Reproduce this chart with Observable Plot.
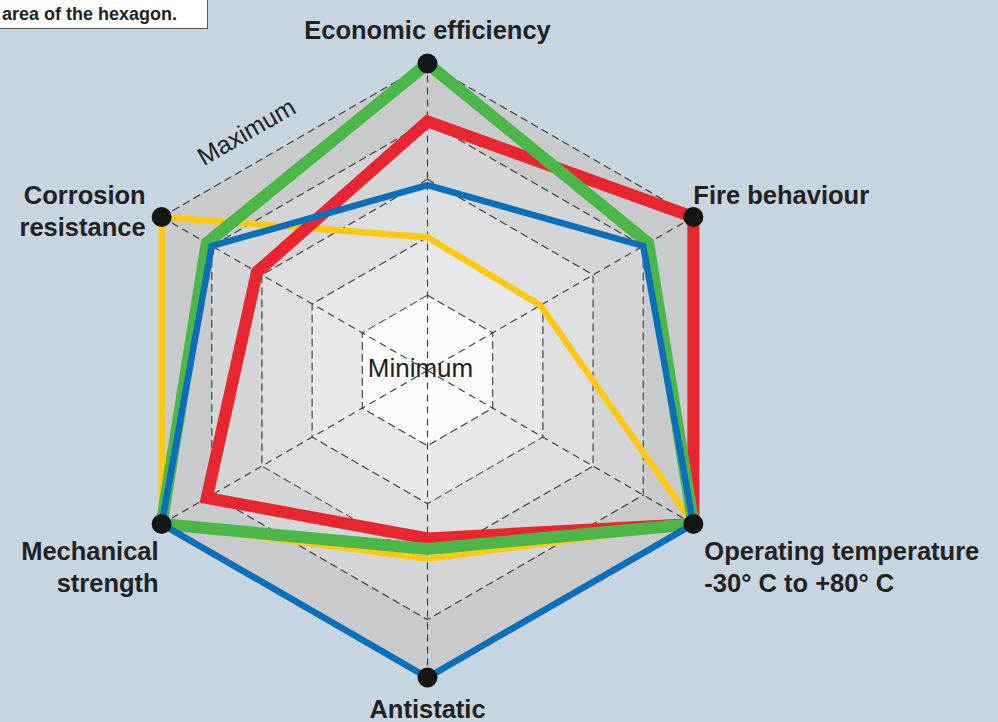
<!DOCTYPE html>
<html>
<head>
<meta charset="utf-8">
<script src="https://cdn.jsdelivr.net/npm/d3@7"></script>
<script src="https://cdn.jsdelivr.net/npm/@observablehq/plot@0.6"></script>
<style>
  html, body { margin: 0; padding: 0; background: #c6d5df; }
  #wrap { position: relative; width: 998px; height: 722px; overflow: hidden; }
  #note { position: absolute; left: -1px; top: -1px; width: 209px; height: 30px; background: #fff;
          border: 1px solid #555; box-sizing: border-box; font: bold 18px "Liberation Sans", Arial, sans-serif;
          color: #222; }
  #note span { position: absolute; left: 2px; top: 4px; white-space: nowrap; }
</style>
</head>
<body>
<div id="wrap"><div id="note"><span>area of the hexagon.</span></div></div>
<script>
// ---- data ----
const axes = ["Economic efficiency", "Fire behaviour", "Operating temperature", "Antistatic", "Mechanical strength", "Corrosion resistance"];
const axisLabels = ["Economic efficiency", "Fire behaviour", "Operating temperature\n-30° C to +80° C", "Antistatic", "Mechanical\nstrength", "Corrosion\nresistance"];
const levels = [1, 2, 3, 4, 5];
const seriesNames = ["Yellow", "Red", "Green", "Blue"];
const yellowValues = [2.0, 1.95, 5, 2.95, 5, 5];
const redValues    = [4.0, 5, 5, 2.6, 4.1, 3.1];
const greenValues  = [5, 4.1, 5, 2.78, 5, 4.1];
const blueValues   = [2.9, 4.0, 5, 5, 5, 4.0];
const seriesColors = ["#fdc913", "#e8262f", "#4cb748", "#0a6fba"];
const seriesWidths = [6.5, 12, 12, 6.5];
const bandColors = ["#c9cacc", "#d4d5d7", "#dedfe1", "#e8e9eb", "#fbfbfc"]; // level 5 .. 1

// ---- geometry helpers (polar -> cartesian, in radar units) ----
const rad = v => (v + 0.3) / 5.3;
const ang = i => i * Math.PI / 3;
const px = (v, i) => rad(v) * Math.sin(ang(i));
const py = (v, i) => rad(v) * Math.cos(ang(i));
const idx = axes.map((_, i) => i);

const seriesValues = [yellowValues, redValues, greenValues, blueValues];
const rows = seriesNames.flatMap((s, k) => seriesValues[k].map((v, i) => ({series: s, k, i, value: v})));

const marks = [];
// bands, outer to inner
[...levels].reverse().forEach((L, j) => {
  marks.push(Plot.line(idx, {x: i => px(L, i), y: i => py(L, i), curve: "linear-closed", fill: bandColors[j], stroke: "none"}));
});
// dashed rings
levels.forEach(L => {
  marks.push(Plot.line(idx, {x: i => px(L, i), y: i => py(L, i), curve: "linear-closed", stroke: "#3a3a3a", strokeWidth: 1.1, strokeDasharray: "7,5", fill: "none"}));
});
// spokes
marks.push(Plot.link(idx, {x1: 0, y1: 0, x2: i => px(5, i), y2: i => py(5, i), stroke: "#3a3a3a", strokeWidth: 1.1, strokeDasharray: "7,5"}));
// series
seriesNames.forEach((s, k) => {
  marks.push(Plot.line(rows.filter(d => d.k === k), {
    x: d => px(d.value, d.i), y: d => py(d.value, d.i), curve: "linear-closed",
    stroke: seriesColors[k], strokeWidth: seriesWidths[k], strokeLinejoin: "miter", strokeMiterlimit: 10
  }));
});
// vertex dots
marks.push(Plot.dot(idx, {x: i => px(5, i), y: i => py(5, i), r: 10, fill: "#151515", stroke: "none"}));
// axis labels
const labelStyle = [
  {dx: 0, dy: -35, textAnchor: "middle"},
  {dx: 0, dy: -23, textAnchor: "start"},
  {dx: 11, dy: 42, textAnchor: "start"},
  {dx: 0, dy: 30, textAnchor: "middle"},
  {dx: -3, dy: 42, textAnchor: "end"},
  {dx: -16, dy: -7, textAnchor: "end"}
];
idx.forEach(i => {
  marks.push(Plot.text([axisLabels[i]], {x: px(5, i), y: py(5, i), text: d => d, ...labelStyle[i],
    lineAnchor: "middle", lineHeight: 1.25, fontSize: 25.5, fontWeight: "bold", fill: "#222",
    fontFamily: "'Liberation Sans', Arial, sans-serif"}));
});
// Maximum / Minimum
marks.push(Plot.text(["Maximum"], {x: (px(5, 5) + px(5, 0)) / 2, y: (py(5, 5) + py(5, 0)) / 2, text: d => d,
  dx: -48, dy: -8, rotate: -30, fontSize: 25, fill: "#222", fontFamily: "'Liberation Sans', Arial, sans-serif"}));
marks.push(Plot.text(["Minimum"], {x: 0, y: 0, text: d => d, dx: -7, dy: -2, fontSize: 26, fill: "#222",
  fontFamily: "'Liberation Sans', Arial, sans-serif"}));

const chart = Plot.plot({
  width: 998, height: 722, margin: 0,
  style: {background: "#c6d5df", overflow: "visible"},
  x: {domain: [-427 / 307, 571 / 307], range: [0, 998], axis: null},
  y: {domain: [-352 / 307, 370 / 307], range: [722, 0], axis: null},
  marks
});
document.getElementById("wrap").prepend(chart);
</script>
</body>
</html>
